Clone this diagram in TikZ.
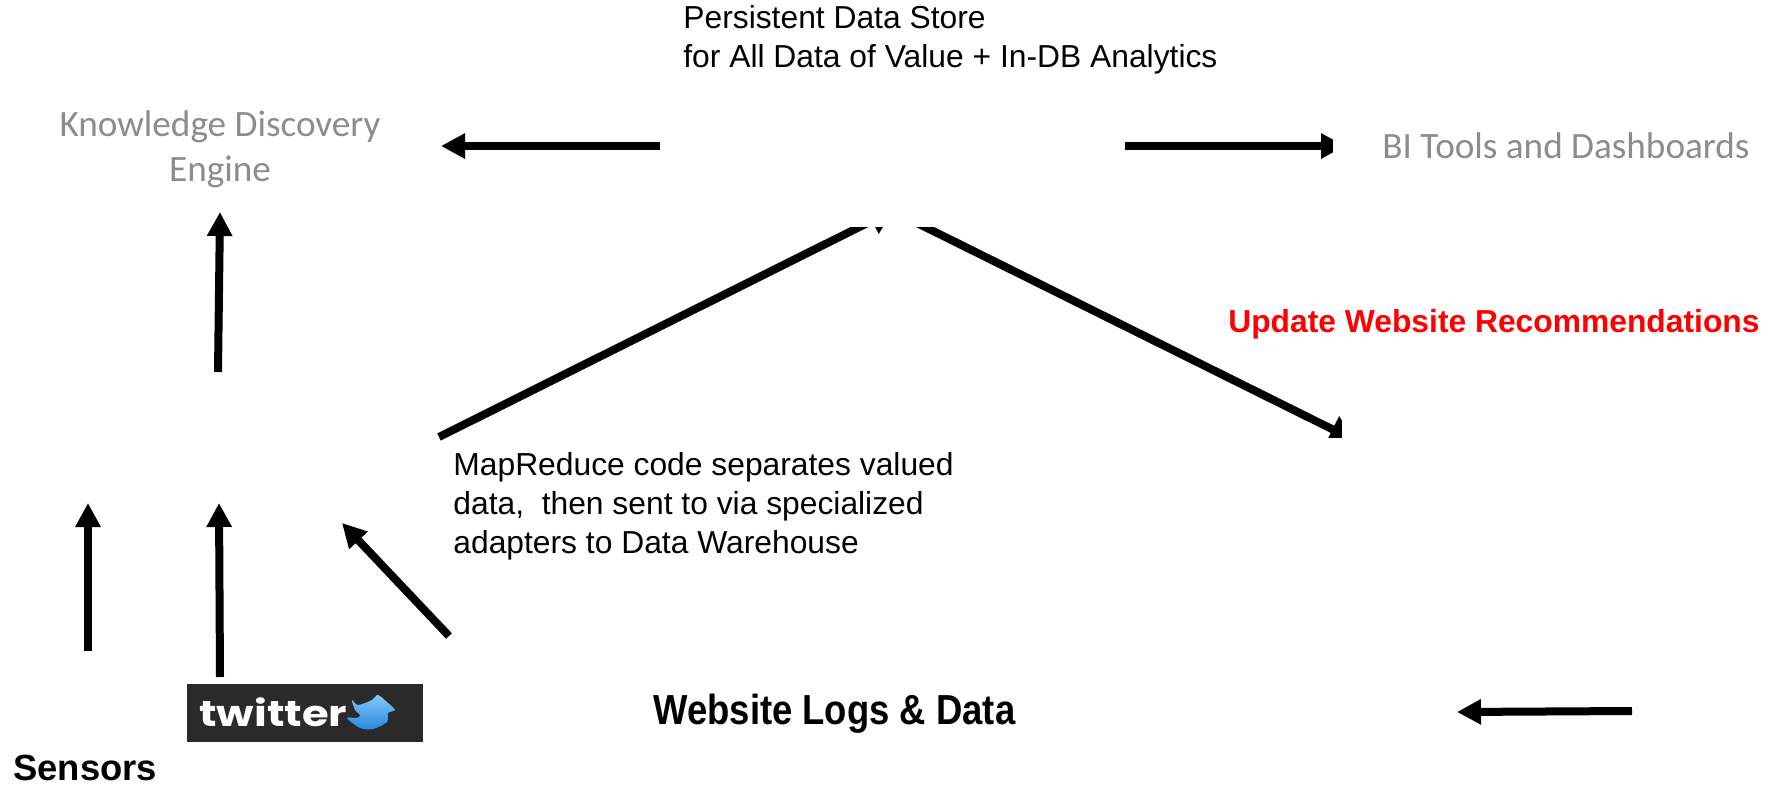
\documentclass[tikz,border=0pt]{standalone}
\usepackage{graphicx}
\usepackage{fontspec}
\setmainfont{Liberation Sans}
\newfontfamily\calibrifont{Carlito}
\newfontfamily\logofont{Poppins}
\usetikzlibrary{arrows.meta}
\definecolor{softgray}{RGB}{140,140,140}
\definecolor{logodark}{RGB}{42,42,42}
\definecolor{birdlight}{RGB}{135,200,245}
\definecolor{birdblue}{RGB}{40,135,225}
\begin{document}
\begin{tikzpicture}[x=0.5pt,y=-0.5pt,
            flow/.style={line width=4pt,-{Triangle[width=12pt,length=12pt]}},
            longflow/.style={line width=4pt,-{Triangle[width=14pt,length=12pt]}},
            cover/.style={fill=white,draw=none,inner sep=0pt},
            note/.style={anchor=west,align=left,font=\fontsize{15.9}{19.4}\selectfont,inner sep=0pt},
            soft/.style={text=softgray,align=center,inner sep=0pt,font=\calibrifont\fontsize{18.6}{22.5}\selectfont}
        ]
            \useasboundingbox (0,0) rectangle (1769,788);

            % ends of the connectors
            \coordinate (storeleft) at (660,146);
            \coordinate (discovery) at (441,146);
            \coordinate (storeright) at (1125,146);
            \coordinate (bitools) at (1345,146);
            \coordinate (hadooptop) at (218,372);
            \coordinate (discoverylow) at (220,212);
            \coordinate (sensorfoot) at (88,651);
            \coordinate (sensorhead) at (88,503);
            \coordinate (twitterfoot) at (220,677);
            \coordinate (twitterhead) at (219,503);
            \coordinate (logfoot) at (449,636);
            \coordinate (loghead) at (342,523);
            \coordinate (mapfoot) at (439,437);
            \coordinate (maphead) at (893.5,210);
            \coordinate (warefoot) at (908,218.5);
            \coordinate (warehead) at (1354,440);
            \coordinate (webfoot) at (1632,711);
            \coordinate (webhead) at (1457,712);

            \draw[flow] (storeleft) -- (discovery);
            \draw[flow] (storeright) -- (bitools);
            \draw[flow] (hadooptop) -- (discoverylow);
            \draw[flow] (sensorfoot) -- (sensorhead);
            \draw[flow] (twitterfoot) -- (twitterhead);
            \draw[flow] (logfoot) -- (loghead);
            \draw[flow] (webfoot) -- (webhead);
            \draw[longflow] (mapfoot) -- (maphead);
            \draw[longflow] (warefoot) -- (warehead);

            % white boxes - need to be drawn on top of the long arrows
            \node[cover,minimum width=200pt,minimum height=40pt,anchor=south] (storebox) at (880,227) {};
            \node[cover,minimum width=15pt,minimum height=20pt,anchor=west] (bibox) at (1333,146) {};
            \node[cover,minimum width=100pt,minimum height=40pt,anchor=north west] (recobox) at (1300,438) {};
            \node[cover,minimum width=100pt,minimum height=40pt,anchor=north west] (recoside) at (1342,400) {};

            \node[note] (store) at (683,40) {Persistent Data Store\\for All Data of Value + In-DB Analytics};
            \node[note] (mapnote) at (453,506) {MapReduce code separates valued\\data,\ \ then sent to via specialized\\adapters to Data Warehouse};
            \node[soft] (engine) at (220,149) {Knowledge Discovery\\Engine};
            \node[soft,anchor=west] (dashboards) at (1382,146) {BI Tools and Dashboards};
            \node[anchor=east,inner sep=0pt,text=red,font=\bfseries\fontsize{15.9}{18}\selectfont] (update) at (1760,324) {Update Website Recommendations};
            \node[anchor=west,inner sep=0pt,font=\bfseries\fontsize{21}{24}\selectfont] (weblogs) at (653,714) {\resizebox{181pt}{\height}{Website Logs \& Data}};
            \node[anchor=west,inner sep=0pt,font=\bfseries\fontsize{18.2}{20}\selectfont] (sensors) at (13,768) {Sensors};

            % logo
            \fill[logodark] (187,684) rectangle (423,742);
            \node[anchor=west,inner sep=0pt,text=white,font=\logofont\bfseries\fontsize{18}{20}\selectfont] (twitter) at (199,712) {\resizebox{74pt}{\height}{twitter}};
            \shade[top color=birdlight,bottom color=birdblue] plot[smooth cycle,tension=0.5] coordinates {(352,700) (358,705) (372,700) (378,695) (388,703) (395,710) (388,713) (387,722) (373,729) (360,728) (347,718) (357,718) (360,715) (355,710)};
        \end{tikzpicture}
\end{document}
